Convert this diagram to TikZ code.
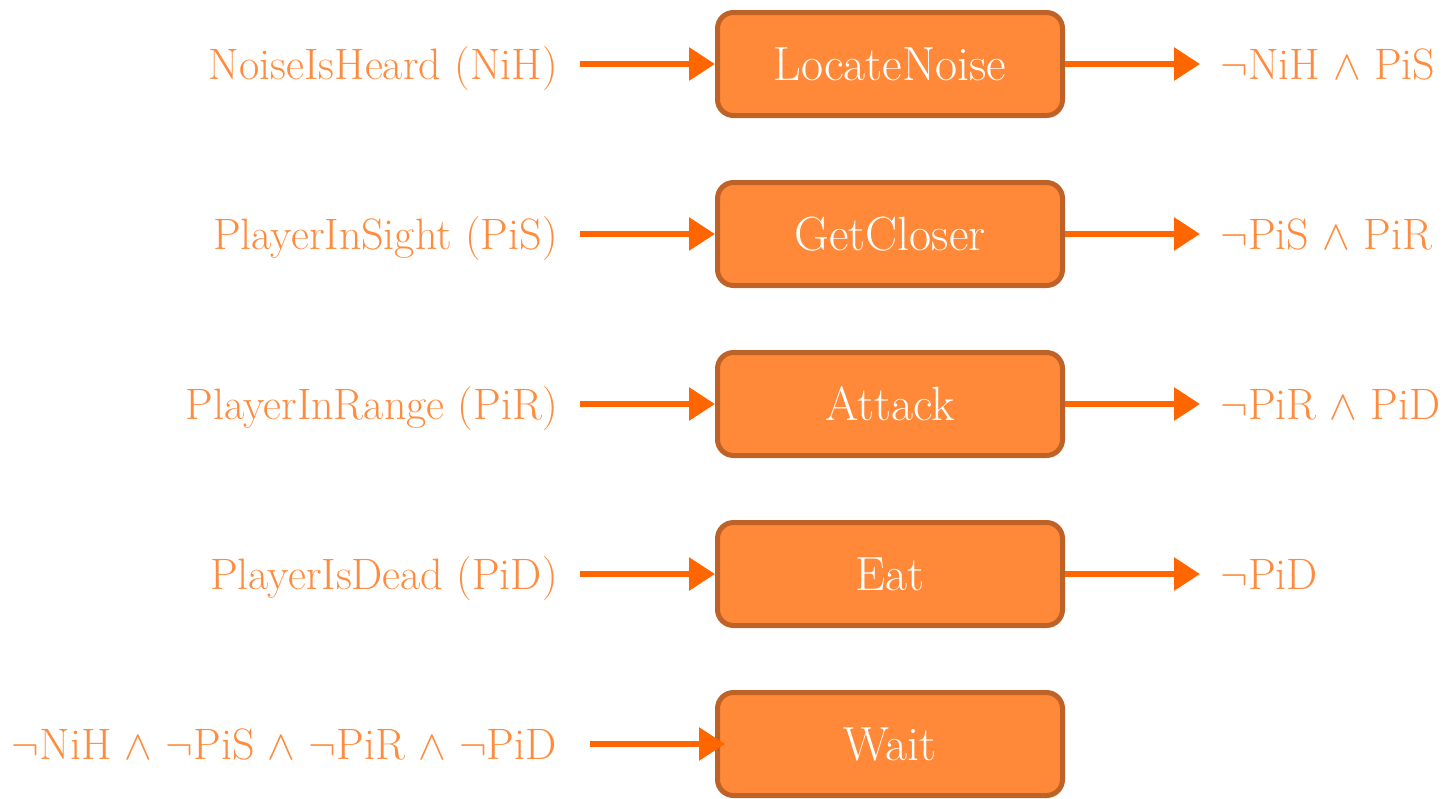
\documentclass[tikz,border=0pt]{standalone}
\usetikzlibrary{positioning, arrows.meta}
\definecolor{BoxFill}{RGB}{255,137,56}
\definecolor{BoxLine}{RGB}{190,98,40}
\definecolor{ArrowColor}{RGB}{255,102,0}
\definecolor{LabelColor}{RGB}{255,140,62}

\begin{document}
\begin{tikzpicture}[x=0.5pt, y=-0.5pt, node distance=31pt,
    action/.style={draw=BoxLine, line width=2.5pt, fill=BoxFill, rounded corners=8pt,
      minimum width=172.5pt, minimum height=51.5pt, text=white,
      font=\fontsize{24}{28}\selectfont, text height=16.4pt, text depth=0pt},
    cond/.style={text=LabelColor, font=\fontsize{22}{26}\selectfont,
      inner ysep=0pt, inner xsep=11pt, text height=15pt, text depth=0pt},
    arr/.style={-{Triangle[length=13pt, width=16pt]}, ArrowColor, line width=3pt}]
  \useasboundingbox (0,0) rectangle (1450,798);

  % actions
  \node[action] (locate) at (890,64) {LocateNoise};
  \node[action, below=of locate] (closer) {GetCloser};
  \node[action, below=of closer] (attack) {Attack};
  \node[action, below=of attack] (eat) {Eat};
  \node[action, below=of eat] (wait) {Wait};

  % preconditions
  \node[cond, anchor=east, left=67.5pt of locate] (nih) {NoiseIsHeard (NiH)};
  \node[cond, anchor=east, left=67.5pt of closer] (pis) {PlayerInSight (PiS)};
  \node[cond, anchor=east, left=67.5pt of attack] (pir) {PlayerInRange (PiR)};
  \node[cond, anchor=east, left=67.5pt of eat] (pid) {PlayerIsDead (PiD)};
  \node[cond, inner xsep=16.5pt, left=62.5pt of wait] (none)
    {$\neg$NiH $\wedge$ $\neg$PiS $\wedge$ $\neg$PiR $\wedge$ $\neg$PiD};

  % effects
  \node[cond, inner xsep=10pt, right=67.5pt of locate] (locateeff) {$\neg$NiH $\wedge$ PiS};
  \node[cond, inner xsep=10pt, right=67.5pt of closer] (closereff) {$\neg$PiS $\wedge$ PiR};
  \node[cond, inner xsep=10pt, right=67.5pt of attack] (attackeff) {$\neg$PiR $\wedge$ PiD};
  \node[cond, inner xsep=10pt, right=67.5pt of eat] (eateff) {$\neg$PiD};

  \draw[arr] (nih) -- (locate);
  \draw[arr] (pis) -- (closer);
  \draw[arr] (pir) -- (attack);
  \draw[arr] (pid) -- (eat);
  \draw[arr] (none) -- ([xshift=5pt]wait.west);

  \draw[arr] (locate) -- (locateeff);
  \draw[arr] (closer) -- (closereff);
  \draw[arr] (attack) -- (attackeff);
  \draw[arr] (eat) -- (eateff);
\end{tikzpicture}
\end{document}
